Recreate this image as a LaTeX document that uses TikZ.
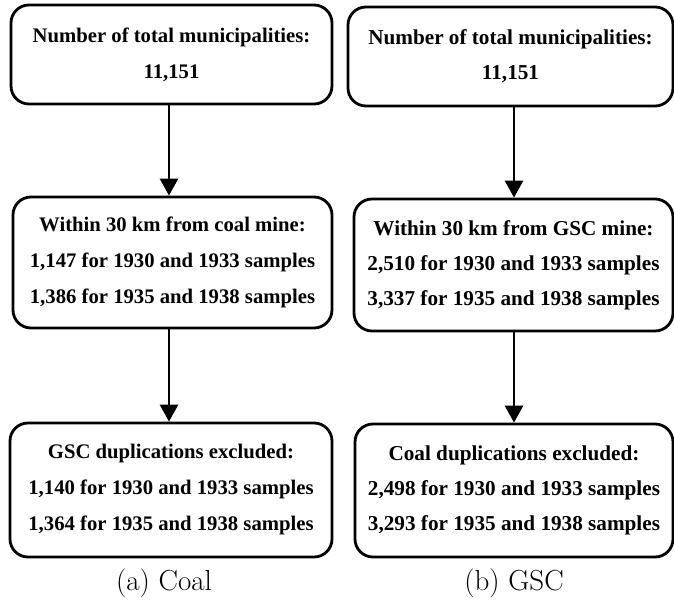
\documentclass[tikz,border=0pt]{standalone}
\usepackage{fontspec}
\newfontfamily\timesfont{Liberation Serif}
\usetikzlibrary{arrows.meta}
\tikzset{
  flowbox/.style={draw, line width=2.8pt, rounded corners=18pt, inner sep=0pt, align=center},
  lefttext/.style={font=\timesfont\bfseries\fontsize{20.7}{36}\selectfont},
  righttext/.style={font=\timesfont\bfseries\fontsize{21.2}{35}\selectfont},
  flowarrow/.style={line width=2.8pt, -{Triangle[length=17pt,width=18pt]}},
  captext/.style={font=\fontsize{29}{30}\selectfont, anchor=base}
}
\begin{document}
\begin{tikzpicture}[x=1pt,y=-1pt]
\useasboundingbox (0,0) rectangle (674,601);
% left column
\node[flowbox, lefttext, minimum width=321pt, minimum height=99pt] (b1) at (171.5,54.5)
  {Number of total municipalities:\\11,151};
\node[flowbox, lefttext, minimum width=319pt, minimum height=131pt] (b2) at (172.5,262.5)
  {Within 30 km from coal mine:\\1,147 for 1930 and 1933 samples\\1,386 for 1935 and 1938 samples};
\node[flowbox, lefttext, minimum width=322pt, minimum height=134pt] (b3) at (171,490)
  {GSC duplications excluded:\\1,140 for 1930 and 1933 samples\\1,364 for 1935 and 1938 samples};
\coordinate (lx) at (169,0);
\draw[flowarrow] (b1.south -| lx) -- (b2.north -| lx);
\draw[flowarrow] (b2.south -| lx) -- (b3.north -| lx);
% right column
\node[flowbox, righttext, minimum width=325pt, minimum height=99pt] (r1) at (510.5,56.5)
  {Number of total municipalities:\\11,151};
\node[flowbox, righttext, minimum width=319pt, minimum height=132pt] (r2) at (513.5,265)
  {Within 30 km from GSC mine:\\2,510 for 1930 and 1933 samples\\3,337 for 1935 and 1938 samples};
\node[flowbox, righttext, minimum width=318pt, minimum height=133pt] (r3) at (514,490.5)
  {Coal duplications excluded:\\2,498 for 1930 and 1933 samples\\3,293 for 1935 and 1938 samples};
\coordinate (rx) at (514,0);
\draw[flowarrow] (r1.south -| rx) -- (r2.north -| rx);
\draw[flowarrow] (r2.south -| rx) -- (r3.north -| rx);
% captions
\node[captext] (ca) at (164,590) {(a) Coal};
\node[captext] (cb) at (514,590) {(b) GSC};
\end{tikzpicture}
\end{document}
